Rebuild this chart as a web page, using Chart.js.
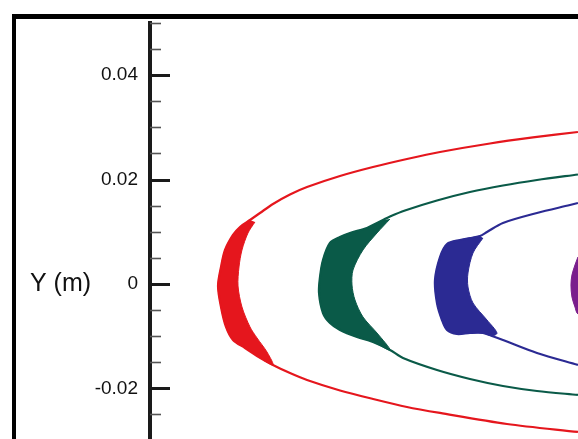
<!DOCTYPE html>
<html>
<head>
<meta charset="utf-8">
<script src="https://cdn.jsdelivr.net/npm/chart.js@4/dist/chart.umd.min.js"></script>
<style>
  html, body { margin: 0; padding: 0; background: #fff; overflow: hidden; }
  #wrap { width: 578px; height: 439px; position: relative; }
  canvas { display: block; }
</style>
</head>
<body>
<div id="wrap"><canvas id="c" width="578" height="439"></canvas></div>
<script>
// ---- axis ticks ----
const yTickValues = [-0.02, 0, 0.02, 0.04];
const yTickLabels = ['-0.02', '0', '0.02', '0.04'];
const yMinorTicks = [0.05, 0.045, 0.035, 0.03, 0.025, 0.015, 0.01, 0.005, -0.005, -0.01, -0.015, -0.025];
const yAxisTitle = 'Y (m)';

// ---- red front (x, y in metres) ----
const redUpper = [[0.08199,0.02912],[0.07337,0.02807],[0.06513,0.02692],[0.05556,0.02529],[0.04923,0.02395],[0.04272,0.02241],[0.03640,0.02069],[0.03008,0.01858],[0.02682,0.01715],[0.02356,0.01533],[0.02107,0.01360]];
const redOuter = [[0.01916,0.01226],[0.01724,0.01092],[0.01590,0.00939],[0.01437,0.00651],[0.01360,0.00326],[0.01303,-0.00038],[0.01360,-0.00441],[0.01456,-0.00824],[0.01590,-0.01073],[0.01820,-0.01226],[0.02050,-0.01379],[0.02356,-0.01552]];
const redLower = [[0.02682,-0.01705],[0.03008,-0.01839],[0.03640,-0.02040],[0.04272,-0.02203],[0.04923,-0.02356],[0.05556,-0.02471],[0.06839,-0.02682],[0.08199,-0.02835]];
const redInner = [[0.02241,-0.01303],[0.02050,-0.01034],[0.01916,-0.00824],[0.01762,-0.00441],[0.01686,-0.00038],[0.01705,0.00326],[0.01762,0.00651],[0.01877,0.00977],[0.02011,0.01188]];

// ---- green front ----
const greenUpper = [[0.08199,0.02098],[0.07414,0.01992],[0.06762,0.01887],[0.06130,0.01762],[0.05498,0.01600],[0.04885,0.01408],[0.04598,0.01293]];
const greenOuter = [[0.04464,0.01226],[0.04157,0.01073],[0.03831,0.00977],[0.03640,0.00900],[0.03448,0.00785],[0.03314,0.00460],[0.03257,0.00134],[0.03238,-0.00172],[0.03314,-0.00556],[0.03448,-0.00747],[0.03640,-0.00881],[0.03966,-0.01015],[0.04272,-0.01111],[0.04598,-0.01264]];
const greenLower = [[0.04847,-0.01418],[0.05498,-0.01648],[0.06130,-0.01820],[0.06762,-0.01954],[0.07414,-0.02050],[0.08199,-0.02126]];
const greenInner = [[0.04349,-0.00939],[0.04080,-0.00632],[0.03927,-0.00307],[0.03870,-0.00019],[0.03889,0.00268],[0.04080,0.00651],[0.04349,0.00977],[0.04598,0.01245]];

// ---- blue front ----
const blueUpper = [[0.08199,0.01552],[0.08046,0.01513],[0.07414,0.01360],[0.06762,0.01169],[0.06456,0.00996]];
const blueOuter = [[0.06322,0.00920],[0.05939,0.00843],[0.05690,0.00766],[0.05556,0.00517],[0.05460,0.00077],[0.05498,-0.00364],[0.05594,-0.00690],[0.05690,-0.00881],[0.05881,-0.00958],[0.06130,-0.00939],[0.06379,-0.00939],[0.06552,-0.00996]];
const blueLower = [[0.06762,-0.01073],[0.07414,-0.01322],[0.08199,-0.01552]];
const blueInner = [[0.06648,-0.00939],[0.06456,-0.00690],[0.06188,-0.00364],[0.06092,-0.00057],[0.06092,0.00211],[0.06188,0.00594],[0.06379,0.00881]];

// ---- purple front (only its tip is visible) ----
const purpleShape = [[0.08199,0.00517],[0.08142,0.00364],[0.08084,0.00172],[0.08065,-0.00019],[0.08084,-0.00249],[0.08142,-0.00441],[0.08199,-0.00575],[0.0840,-0.00575],[0.0840,0.00517]];

const colors = { red: '#e5161d', green: '#0a5a48', blue: '#2b2a93', purple: '#7a1e8c' };

const toPts = arr => arr.map(p => ({ x: p[0], y: p[1] }));

function frontLine(upper, outer, lower, color) {
  return {
    data: toPts([...upper, ...outer, ...lower]),
    borderColor: color, borderWidth: 2.2, pointRadius: 0, tension: 0.3, fill: false
  };
}
function frontBody(outer, inner, color) {
  return {
    data: toPts([...outer, ...inner]),
    borderColor: color, backgroundColor: color, borderWidth: 1, pointRadius: 0, tension: 0.3, fill: 'shape'
  };
}

const framePlugin = {
  id: 'frame',
  beforeDraw(chart) {
    const ctx = chart.ctx;
    ctx.save();
    ctx.fillStyle = '#ffffff';
    ctx.fillRect(0, 0, chart.width, chart.height);
    ctx.fillStyle = '#000000';
    ctx.fillRect(12, 14, chart.width - 12, 5);
    ctx.fillRect(12, 14, 4, chart.height - 14);
    ctx.restore();
  },
  afterDraw(chart) {
    const ctx = chart.ctx;
    const ys = chart.scales.y;
    const x0 = chart.chartArea.left;
    ctx.save();
    ctx.strokeStyle = '#1a1a1a';
    ctx.lineWidth = 3;
    yTickValues.forEach(v => {
      const py = Math.round(ys.getPixelForValue(v)) + 0.5;
      ctx.beginPath(); ctx.moveTo(x0, py); ctx.lineTo(x0 + 20, py); ctx.stroke();
    });
    ctx.strokeStyle = '#555555';
    ctx.lineWidth = 1.6;
    yMinorTicks.forEach(v => {
      const py = Math.round(ys.getPixelForValue(v)) + 0.5;
      ctx.beginPath(); ctx.moveTo(x0, py); ctx.lineTo(x0 + 11, py); ctx.stroke();
    });
    ctx.fillStyle = '#111111';
    ctx.font = '25px "Liberation Sans", Arial, sans-serif';
    ctx.textAlign = 'left';
    ctx.textBaseline = 'middle';
    ctx.fillText(yAxisTitle, 30, ys.getPixelForValue(0));
    ctx.restore();
  }
};

new Chart(document.getElementById('c'), {
  type: 'line',
  data: {
    datasets: [
      frontLine(redUpper, redOuter, redLower, colors.red),
      frontBody(redOuter, redInner, colors.red),
      frontLine(greenUpper, greenOuter, greenLower, colors.green),
      frontBody(greenOuter, greenInner, colors.green),
      frontLine(blueUpper, blueOuter, blueLower, colors.blue),
      frontBody(blueOuter, blueInner, colors.blue),
      { data: toPts(purpleShape), borderColor: colors.purple, backgroundColor: colors.purple, borderWidth: 1, pointRadius: 0, tension: 0.3, fill: 'shape' }
    ]
  },
  options: {
    responsive: false,
    animation: false,
    events: [],
    layout: { padding: { top: 23, left: 0, right: 0, bottom: 0 } },
    plugins: { legend: { display: false }, tooltip: { enabled: false }, title: { display: false } },
    scales: {
      x: { type: 'linear', min: 0, max: 0.082, display: false },
      y: {
        type: 'linear', min: -0.0297, max: 0.05, position: 'left',
        afterFit(scale) { scale.width = 150; scale.paddingTop = 0; scale.paddingBottom = 0; },
        afterBuildTicks(scale) { scale.ticks = yTickValues.map(v => ({ value: v })); },
        grid: { display: false, drawTicks: false },
        border: { display: true, color: '#1a1a1a', width: 4 },
        ticks: {
          includeBounds: false,
          padding: 12,
          color: '#111111',
          font: { family: '"Liberation Sans", Arial, sans-serif', size: 19 },
          callback: (v) => { const i = yTickValues.indexOf(v); return i >= 0 ? yTickLabels[i] : ''; }
        }
      }
    }
  },
  plugins: [framePlugin]
});
</script>
</body>
</html>
